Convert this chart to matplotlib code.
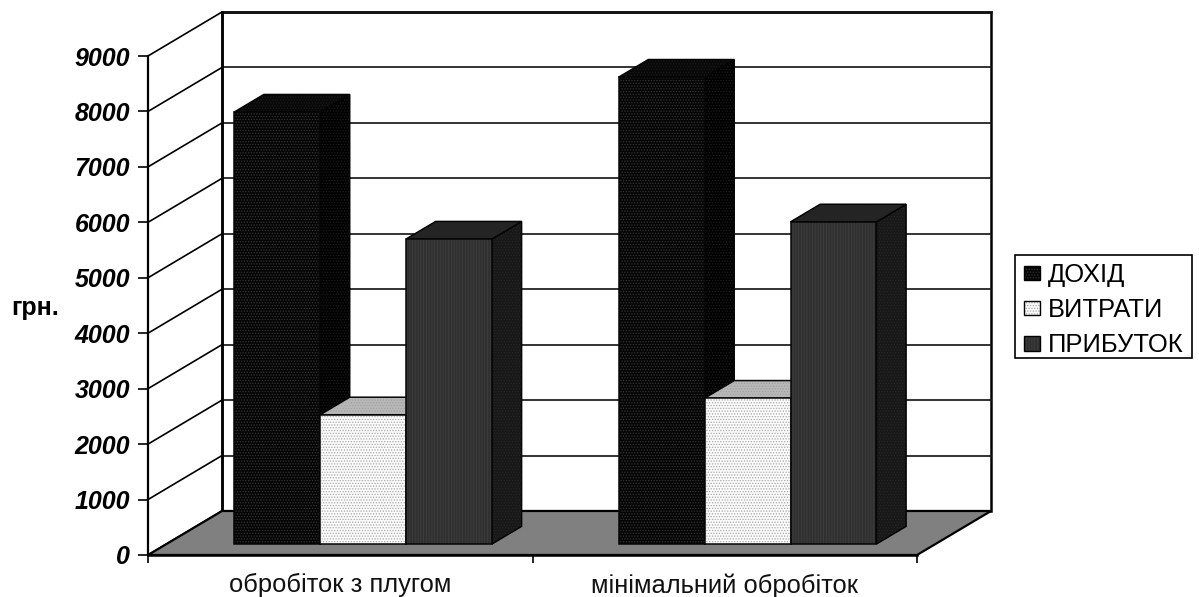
import matplotlib
matplotlib.use("Agg")
import matplotlib.pyplot as plt
from matplotlib.legend_handler import HandlerTuple
from matplotlib.patches import Patch, Polygon, Rectangle

plt.rcParams["font.family"] = ["Liberation Sans", "DejaVu Sans"]
plt.rcParams["hatch.linewidth"] = 0.6

categories = ["обробіток з плугом", "мінімальний обробіток"]
series_names = ["ДОХІД", "ВИТРАТИ", "ПРИБУТОК"]
dohid = [7790, 8420]
vytraty = [2330, 2630]
prybutok = [5500, 5810]
y_ticks = [0, 1000, 2000, 3000, 4000, 5000, 6000, 7000, 8000, 9000]

# face, side, top colours, then hatch colours for the front and the other faces, and hatch
styles = [
    ("#050505", "#000000", "#080808", "#343434", "#1c1c1c", "......"),
    ("#fbfbfb", "#c8c8c8", "#b8b8b8", "#a8a8a8", "#a0a0a0", "......"),
    ("#303030", "#181818", "#242424", "#3e3e3e", "#262626", "||||||"),
]

# depth of the chart floor in data units
depth_x = 0.1925
depth_y = 794
# bars stand between these fractions of the depth
bar_front = 0.25
bar_depth = 0.40
bar_w = 0.2235
group_start = 0.176

fig = plt.figure(figsize=(11.99, 5.97), dpi=100)
ax = fig.add_axes([148 / 1199, 42 / 597, 769 / 1199, 499 / 597])
ax.set_xlim(0, 2)
ax.set_ylim(0, 9000)
for s in ["top", "right"]:
    ax.spines[s].set_visible(False)
ax.spines["left"].set_linewidth(1.6)
ax.spines["bottom"].set_linewidth(1.8)
ax.spines["left"].set_zorder(6)
ax.spines["bottom"].set_zorder(6)

# back wall
ax.add_patch(Polygon([(depth_x, depth_y), (2 + depth_x, depth_y), (2 + depth_x, 9000 + depth_y),
                      (depth_x, 9000 + depth_y)], closed=True, fc="white", ec="black", lw=1.8,
                     clip_on=False, zorder=1))
# side wall and grid lines
for v in y_ticks:
    lw = 1.8 if v == 9000 else 1.2
    ax.plot([0, depth_x], [v, v + depth_y], color="black", lw=1.2, clip_on=False, zorder=1)
    ax.plot([depth_x, 2 + depth_x], [v + depth_y, v + depth_y], color="#111111", lw=lw,
            clip_on=False, zorder=1)
ax.plot([depth_x, depth_x], [depth_y, 9000 + depth_y], color="black", lw=1.8, clip_on=False, zorder=2)

# floor
ax.add_patch(Polygon([(0, 0), (2, 0), (2 + depth_x, depth_y), (depth_x, depth_y)], closed=True,
                     fc="#808080", ec="black", lw=1.6, clip_on=False, zorder=2))

base = bar_front * depth_y
x_base = bar_front * depth_x
dx = bar_depth * depth_x
dy = bar_depth * depth_y

z = 3
for i in range(len(categories)):
    for j, values in enumerate([dohid, vytraty, prybutok]):
        face, side, top, hatch_col, hatch_col2, hatch = styles[j]
        x0 = i + group_start + x_base + j * bar_w
        x1 = x0 + bar_w
        h = values[i]
        y1 = base + h
        side_pts = [(x1, base), (x1 + dx, base + dy), (x1 + dx, y1 + dy), (x1, y1)]
        top_pts = [(x0, y1), (x1, y1), (x1 + dx, y1 + dy), (x0 + dx, y1 + dy)]
        for pts, col in [(side_pts, side), (top_pts, top)]:
            ax.add_patch(Polygon(pts, closed=True, fc=col, ec=hatch_col2, lw=0, hatch="......",
                                 clip_on=False, zorder=z))
            ax.add_patch(Polygon(pts, closed=True, fill=False, ec="#050505", lw=1.1,
                                 clip_on=False, zorder=z))
        ax.bar(x0, h, bar_w, bottom=base, align="edge", color=face, edgecolor=hatch_col, lw=0,
               hatch=hatch, clip_on=False, zorder=z)
        ax.bar(x0, h, bar_w, bottom=base, align="edge", fill=False, edgecolor="#050505", lw=1.1,
               clip_on=False, zorder=z)
        z += 0.1

ax.set_yticks(y_ticks)
ax.set_yticklabels([str(v) for v in y_ticks], fontsize=18, fontweight="bold", fontstyle="italic")
ax.tick_params(axis="y", length=7, width=1.2, pad=6)
ax.set_xticks([0, 1, 2])
ax.set_xticklabels([])
ax.tick_params(axis="x", which="major", length=6, width=1.2)
ax.set_xticks([0.5, 1.5], minor=True)
ax.set_xticklabels(categories, minor=True, fontsize=18.4, color="#111111")
ax.tick_params(axis="x", which="minor", length=0, pad=13)

ax.set_ylabel("грн.", rotation=0, fontsize=18, fontweight="bold", ha="center", va="center")
ax.yaxis.set_label_coords(-113 / 769, (555 - 308) / 499)

# legend box is drawn apart so its padding can differ from the entries' spacing
fig.add_artist(Rectangle((1015 / 1199, 1 - 358 / 597), 177 / 1199, 103 / 597, fc="white",
                         ec="black", lw=1.2, transform=fig.transFigure))

# legend swatches: hatched fill under a thin outline
handles = []
for st in styles:
    fill_patch = Patch(facecolor=st[0], edgecolor=st[3], lw=0, hatch=st[5])
    outline = Patch(fill=False, edgecolor="black", lw=1.0)
    handles.append((fill_patch, outline))
legend = fig.legend(handles, series_names, loc="upper left",
                    bbox_to_anchor=(1024 / 1199, 1 - 263 / 597), fontsize=18.4,
                    handler_map={tuple: HandlerTuple(ndivide=1, pad=0)},
                    frameon=False, handlelength=0.63, handleheight=0.5, handletextpad=0.31,
                    labelspacing=0.44, borderpad=0, borderaxespad=0)

fig.savefig("out.png", dpi=100)
